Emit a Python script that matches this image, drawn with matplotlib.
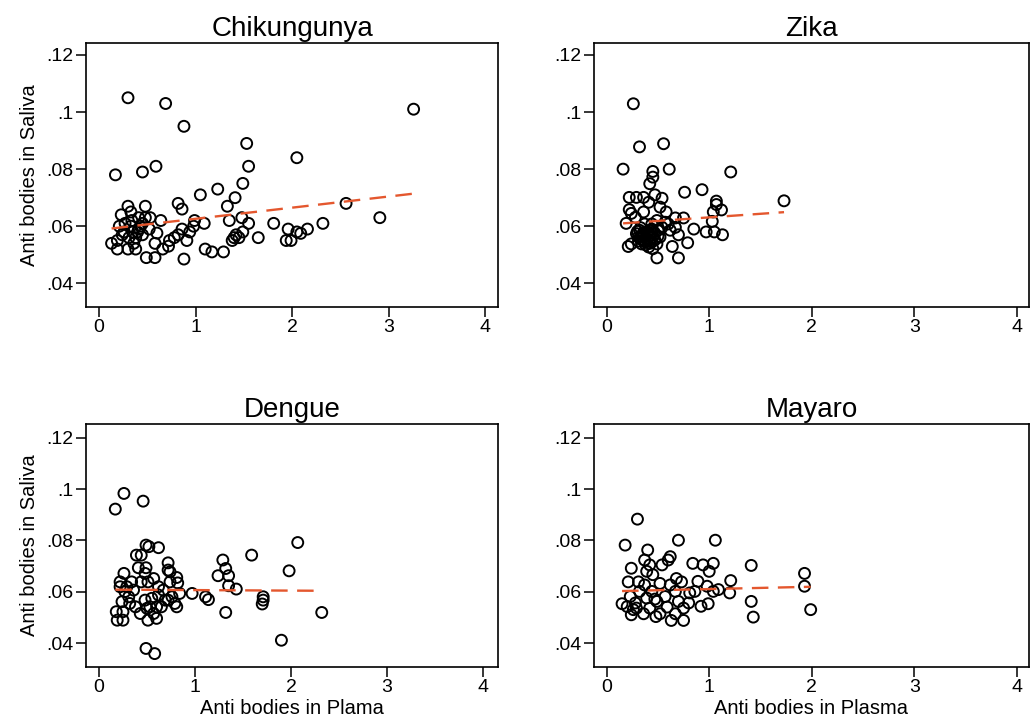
import numpy as np
import matplotlib
matplotlib.use("Agg")
import matplotlib.pyplot as plt

plt.rcParams['font.family'] = ['Liberation Sans', 'DejaVu Sans']

# Datos
chik_x = [0.30, 0.69, 0.88, 1.53, 1.55, 2.05, 0.17, 0.45, 0.59, 1.49, 1.23, 1.05, 1.41, 1.33,
          0.82, 0.86, 0.30, 0.48, 0.23, 0.33, 0.64, 1.48, 1.35, 1.55, 1.81, 1.96, 1.94, 2.05,
          1.65, 1.09, 0.99, 0.98, 0.94, 0.86, 0.82, 0.78, 0.73, 0.72, 0.91, 0.66, 0.88, 1.10,
          1.17, 1.29, 1.38, 1.40, 1.42, 1.45, 1.49, 0.49, 0.58, 0.60, 0.58,
          0.13, 0.19, 0.19, 0.30, 0.38, 0.21, 0.27, 0.33, 0.35, 0.31, 0.38, 0.41, 0.45, 0.48,
          0.41, 0.52, 0.36, 0.26, 0.45, 0.53, 0.40, 0.24, 0.34, 0.43,
          3.26, 2.56, 2.91, 2.32, 2.16, 2.09, 1.99]
chik_y = [0.105, 0.103, 0.095, 0.089, 0.081, 0.084, 0.078, 0.079, 0.081, 0.075, 0.073, 0.071, 0.070, 0.067,
          0.068, 0.066, 0.067, 0.067, 0.064, 0.065, 0.062, 0.063, 0.062, 0.061, 0.061, 0.059, 0.055, 0.058,
          0.056, 0.061, 0.062, 0.060, 0.058, 0.059, 0.057, 0.056, 0.055, 0.053, 0.055, 0.052, 0.0485, 0.052,
          0.051, 0.051, 0.055, 0.056, 0.057, 0.056, 0.058, 0.049, 0.049, 0.0576, 0.054,
          0.054, 0.055, 0.052, 0.052, 0.052, 0.060, 0.061, 0.060, 0.058, 0.056, 0.056, 0.059, 0.061, 0.063,
          0.063, 0.059, 0.054, 0.058, 0.057, 0.063, 0.058, 0.057, 0.062, 0.060,
          0.101, 0.068, 0.063, 0.061, 0.059, 0.0575, 0.055]

zika_x = [0.26, 0.32, 0.555, 0.16, 0.61, 0.45, 0.45, 0.42, 1.21, 0.76, 0.93, 1.73, 1.07, 1.07,
          1.12, 1.04, 1.03, 0.97, 1.05, 1.13, 0.85, 0.79, 0.70, 0.64, 0.49, 0.70, 0.67, 0.75,
          0.67, 0.58, 0.52, 0.54, 0.47, 0.41, 0.36, 0.29, 0.22, 0.22, 0.24, 0.19, 0.28, 0.36,
          0.21, 0.24, 0.31, 0.36, 0.39, 0.42, 0.45, 0.49, 0.50, 0.32, 0.37, 0.44, 0.49, 0.34,
          0.41, 0.45, 0.52, 0.29, 0.39, 0.47, 0.44, 0.54, 0.57, 0.62, 0.60, 0.35, 0.40, 0.33,
          0.31, 0.34, 0.38, 0.43, 0.47, 0.50, 0.36, 0.40, 0.44, 0.33, 0.38, 0.42, 0.46, 0.30]
zika_y = [0.1029, 0.0878, 0.0889, 0.080, 0.080, 0.0792, 0.0772, 0.0749, 0.079, 0.0719, 0.0728, 0.0689, 0.0688, 0.0676,
          0.0657, 0.065, 0.0617, 0.058, 0.058, 0.057, 0.059, 0.0542, 0.0489, 0.0529, 0.0489, 0.057, 0.0596, 0.0629,
          0.0629, 0.065, 0.0667, 0.0698, 0.071, 0.0684, 0.0701, 0.0701, 0.0701, 0.0658, 0.0645, 0.061, 0.0631, 0.065,
          0.0529, 0.0538, 0.0562, 0.055, 0.0574, 0.0586, 0.0562, 0.0538, 0.0586, 0.0586, 0.0608, 0.0608, 0.062, 0.0538,
          0.0527, 0.0521, 0.0562, 0.0574, 0.0556, 0.0574, 0.0545, 0.0596, 0.0614, 0.0586, 0.0608, 0.0570, 0.0555, 0.0595,
          0.0548, 0.0565, 0.0545, 0.0568, 0.0552, 0.0565, 0.0578, 0.0580, 0.0590, 0.0555, 0.0535, 0.0540, 0.0580, 0.0582]

deng_x = [0.17, 0.26, 0.46, 0.49, 0.52, 0.62, 0.39, 0.44, 0.41, 0.49, 0.48, 0.57, 0.72, 0.72,
          0.74, 0.81, 0.82, 0.74, 0.84, 0.97, 1.11, 1.14, 1.29, 1.32, 1.24, 1.35, 1.35, 1.43,
          1.32, 1.59, 1.98, 1.71, 1.71, 1.70, 1.90, 0.49, 0.58, 2.07, 2.32,
          0.22, 0.26, 0.22, 0.27, 0.24, 0.18, 0.25, 0.19, 0.25, 0.31, 0.32, 0.36, 0.38, 0.43,
          0.51, 0.60, 0.53, 0.57, 0.48, 0.55, 0.62, 0.65, 0.69, 0.67, 0.72, 0.79, 0.81, 0.76,
          0.34, 0.44, 0.51, 0.62, 0.29, 0.60, 0.50]
deng_y = [0.0922, 0.0983, 0.0953, 0.0782, 0.0776, 0.0772, 0.0743, 0.0743, 0.0694, 0.0694, 0.0672, 0.0652, 0.0713, 0.0685,
          0.0678, 0.0656, 0.0635, 0.0639, 0.0594, 0.0594, 0.0581, 0.0570, 0.0724, 0.0691, 0.0663, 0.0663, 0.0624, 0.0611,
          0.0520, 0.0743, 0.0682, 0.0581, 0.0568, 0.0553, 0.0412, 0.0380, 0.0360, 0.0792, 0.052,
          0.0639, 0.0672, 0.0620, 0.0601, 0.0562, 0.0523, 0.0523, 0.0490, 0.0490, 0.0581, 0.0555, 0.0607, 0.0542, 0.0516,
          0.0490, 0.0497, 0.0542, 0.0516, 0.0568, 0.0575, 0.0588, 0.0542, 0.0568, 0.0607, 0.0568, 0.0555, 0.0542, 0.0581,
          0.0639, 0.0639, 0.0639, 0.0620, 0.0620, 0.0542, 0.0536]

maya_x = [0.30, 0.18, 0.70, 1.06, 0.40, 0.37, 0.42, 0.62, 0.60, 0.54, 0.24, 0.39, 0.45, 0.84,
          0.94, 1.04, 1.00, 1.41, 1.21, 1.20, 1.09, 1.04, 0.98, 0.89, 1.41, 1.43, 0.99, 0.92,
          0.81, 0.86, 0.68, 0.73, 0.62, 0.67, 0.70, 0.75, 0.80, 0.75, 0.63, 0.67, 0.59, 0.49,
          0.48, 0.42, 0.36, 0.29, 0.24, 0.20, 0.15, 0.23, 0.21, 0.31, 0.32, 0.39, 0.44, 0.47,
          0.52, 0.57, 0.28, 0.52, 0.37, 0.26, 1.93, 1.93, 1.99]
maya_y = [0.0883, 0.0782, 0.0801, 0.0801, 0.0763, 0.0724, 0.0705, 0.0737, 0.0724, 0.0705, 0.0692, 0.0680, 0.0667, 0.0711,
          0.0705, 0.0711, 0.0680, 0.0703, 0.0644, 0.0596, 0.0609, 0.0602, 0.0622, 0.0641, 0.0563, 0.0502, 0.0554, 0.0544,
          0.0596, 0.0602, 0.0652, 0.0639, 0.0627, 0.0602, 0.0563, 0.0537, 0.0557, 0.0489, 0.0489, 0.0515, 0.0541, 0.0563,
          0.0504, 0.0537, 0.0515, 0.0537, 0.0511, 0.0543, 0.0554, 0.0582, 0.0639, 0.0639, 0.0602, 0.0576, 0.0602, 0.0572,
          0.0633, 0.0582, 0.0557, 0.0515, 0.0627, 0.0531, 0.0672, 0.0622, 0.0531]

titles = ['Chikungunya', 'Zika', 'Dengue', 'Mayaro']
fit_intercept = [0.0587, 0.0606, 0.0609, 0.0602]
fit_slope = [0.0039, 0.0025, -0.0002, 0.0009]

x_ticks = [0, 1, 2, 3, 4]
y_ticks = [0.04, 0.06, 0.08, 0.10, 0.12]
y_tick_labels = ['.04', '.06', '.08', '.1', '.12']

xs = [chik_x, zika_x, deng_x, maya_x]
ys = [chik_y, zika_y, deng_y, maya_y]

# Posiciones de los paneles (fracción de la figura)
rects = [[0.0831, 0.5746, 0.3981, 0.3662],
         [0.5739, 0.5746, 0.4203, 0.3662],
         [0.0831, 0.0753, 0.3981, 0.3366],
         [0.5739, 0.0753, 0.4203, 0.3366]]
xlims = [(-0.135, 4.135), (-0.124, 4.12), (-0.135, 4.156), (-0.124, 4.12)]
ylims = [(0.0318, 0.1243), (0.0318, 0.1243), (0.0309, 0.1253), (0.0309, 0.1253)]
xlabels = ['', '', 'Anti bodies in Plama', 'Anti bodies in Plasma']

fig = plt.figure(figsize=(10.35, 7.21), dpi=100)

for i in range(4):
    ax = fig.add_axes(rects[i])
    x = np.array(xs[i])
    y = np.array(ys[i])
    ax.scatter(x, y, s=62, facecolors='none', edgecolors='black', linewidths=1.4, zorder=2)

    # Línea de ajuste
    xf = np.array([x.min(), x.max()])
    yf = fit_intercept[i] + fit_slope[i] * xf
    ax.plot(xf, yf, color='#e4572e', linewidth=1.7, dashes=(7, 4), zorder=3)

    ax.set_xlim(*xlims[i])
    ax.set_ylim(*ylims[i])
    ax.set_xticks(x_ticks)
    ax.set_yticks(y_ticks)
    ax.set_yticklabels(y_tick_labels)
    ax.tick_params(direction='out', length=7, width=1.1, labelsize=14, pad=2)
    for sp in ax.spines.values():
        sp.set_linewidth(1.2)
    ax.set_title(titles[i], fontsize=20, pad=5)
    if i % 2 == 0:
        ax.set_ylabel('Anti bodies in Saliva', fontsize=14.5, labelpad=5)
    if xlabels[i]:
        ax.set_xlabel(xlabels[i], fontsize=14.5, labelpad=2)

fig.savefig('out.png', dpi=100)
